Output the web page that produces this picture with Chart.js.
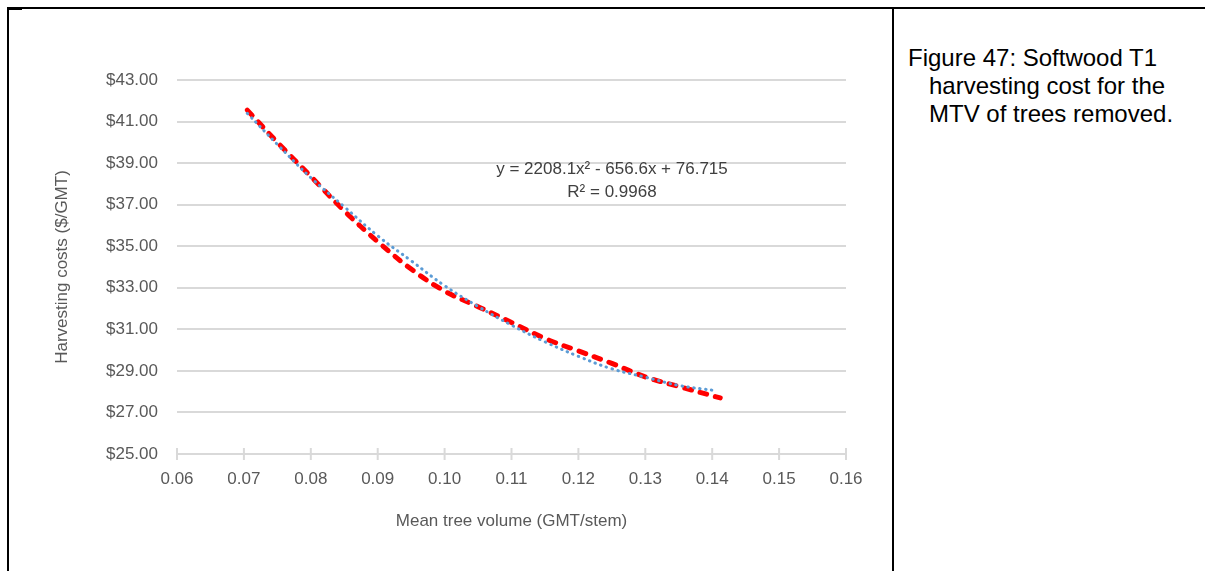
<!DOCTYPE html>
<html>
<head>
<meta charset="utf-8">
<script src="https://cdn.jsdelivr.net/npm/chart.js@4.4.1/dist/chart.umd.min.js"></script>
<style>
  html, body { margin: 0; padding: 0; background: #fff; }
  body { width: 1205px; height: 571px; position: relative; overflow: hidden; font-family: "Liberation Sans", Arial, sans-serif; }
  .rule { position: absolute; background: #000; z-index: 2; }
  #chartBox { position: absolute; left: 10px; top: 10px; width: 880px; height: 561px; }
  .eq { position: absolute; left: 452px; width: 320px; text-align: center; font-size: 17px; line-height: 20px; color: #404040; z-index: 1; }
  #caption { position: absolute; left: 929px; top: 44px; font-size: 24px; line-height: 28px; color: #000; text-indent: -21px; white-space: nowrap; }
</style>
</head>
<body>
<div class="rule" style="left:7px; top:7px; width:1198px; height:2px;"></div>
<div class="rule" style="left:7px; top:7px; width:15px; height:3px;"></div>
<div class="rule" style="left:7px; top:7px; width:2px; height:564px;"></div>
<div class="rule" style="left:892px; top:7px; width:2px; height:564px;"></div>

<div id="chartBox"><canvas id="costChart"></canvas></div>
<div class="eq" style="top:159px;">y = 2208.1x² - 656.6x + 76.715</div>
<div class="eq" style="top:182px;">R² = 0.9968</div>

<div id="caption">Figure 47: Softwood T1<br>harvesting cost for the<br>MTV of trees removed.</div>

<script>
// harvesting cost
const volume = [0.0705, 0.075, 0.08, 0.085, 0.09, 0.095, 0.10, 0.105, 0.11, 0.115, 0.12, 0.125, 0.13, 0.135, 0.1412];
const cost = [41.55, 40.0, 38.36, 36.7, 35.22, 33.9, 32.84, 32.09, 31.33, 30.56, 29.96, 29.36, 28.71, 28.25, 27.7];

// blue dotted polynomial trendline
const trendVolume = [0.0705, 0.075, 0.08, 0.085, 0.09, 0.095, 0.10, 0.105, 0.11, 0.115, 0.12, 0.125, 0.13, 0.135, 0.1405];
const trendCost = [41.4, 39.9, 38.3, 36.9, 35.5, 34.3, 33.1, 32.1, 31.2, 30.4, 29.7, 29.1, 28.7, 28.3, 28.05];

const xMin = 0.06, xMax = 0.16, xStep = 0.01;
const yMin = 25, yMax = 43, yStep = 2;

const FONT = "'Liberation Sans', Arial, sans-serif";
const TEXT = "#595959";
const GRID = "#d9d9d9";

function toPoints(xs, ys) {
  return xs.map((x, i) => ({ x, y: ys[i] }));
}

// tick marks crossing the x axis line
const axisTicks = {
  id: "axisTicks",
  beforeDatasetsDraw(chart) {
    const sx = chart.scales.x;
    const ctx = chart.ctx;
    ctx.save();
    ctx.strokeStyle = GRID;
    ctx.lineWidth = 2;
    sx.ticks.forEach((t) => {
      const px = sx.getPixelForValue(t.value);
      ctx.beginPath();
      ctx.moveTo(px, sx.top - 6);
      ctx.lineTo(px, sx.top + 6);
      ctx.stroke();
    });
    ctx.restore();
  },
};

new Chart(document.getElementById("costChart"), {
  type: "scatter",
  data: {
    datasets: [
      {
        label: "Poly. trend",
        data: toPoints(trendVolume, trendCost),
        showLine: true,
        borderColor: "#5b9bd5",
        borderWidth: 3,
        borderDash: [0.5, 5.5],
        borderCapStyle: "round",
        tension: 0.4,
        pointRadius: 0,
        order: 0,
      },
      {
        label: "Harvesting cost",
        data: toPoints(volume, cost),
        showLine: true,
        borderColor: "#ff0000",
        borderWidth: 5,
        borderDash: [7, 9],
        borderCapStyle: "round",
        tension: 0.35,
        pointRadius: 0,
        order: 1,
      },
    ],
  },
  options: {
    responsive: true,
    maintainAspectRatio: false,
    animation: false,
    layout: { padding: { left: 0, right: 44, top: 70, bottom: 0 } },
    plugins: { legend: { display: false }, tooltip: { enabled: false } },
    scales: {
      x: {
        type: "linear",
        min: xMin,
        max: xMax,
        ticks: {
          stepSize: xStep,
          padding: 15,
          maxRotation: 0,
          autoSkip: false,
          color: TEXT,
          font: { family: FONT, size: 17 },
          callback: (v) => v.toFixed(2),
        },
        grid: { display: false, drawTicks: false },
        border: { display: true, color: GRID, width: 2 },
        title: {
          display: true,
          text: "Mean tree volume (GMT/stem)",
          color: TEXT,
          font: { family: FONT, size: 17 },
          padding: { top: 0, bottom: 39 },
        },
        afterFit: (s) => { s.height = 117; },
      },
      y: {
        min: yMin,
        max: yMax,
        ticks: {
          stepSize: yStep,
          padding: 19,
          color: TEXT,
          font: { family: FONT, size: 17 },
          callback: (v) => "$" + v.toFixed(2),
        },
        grid: { color: GRID, lineWidth: 2, drawTicks: false },
        border: { display: false },
        title: {
          display: true,
          text: "Harvesting costs ($/GMT)",
          color: TEXT,
          font: { family: FONT, size: 17 },
          padding: { top: 42, bottom: 0 },
        },
        afterFit: (s) => { s.width = 167; },
      },
    },
  },
  plugins: [axisTicks],
});
</script>
</body>
</html>
